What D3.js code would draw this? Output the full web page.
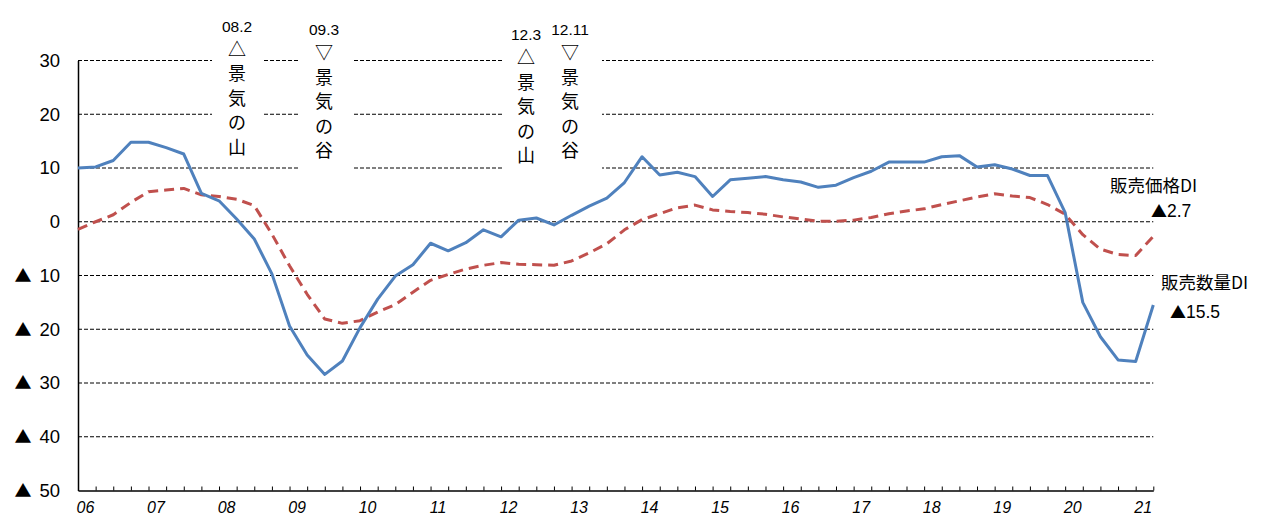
<!DOCTYPE html>
<html>
<head>
<meta charset="utf-8">
<script src="https://cdn.jsdelivr.net/npm/d3@7/dist/d3.min.js"></script>
<style>
  html, body { margin: 0; padding: 0; background: #fff; }
  svg { display: block; }
  .jp { font-family: "Noto Sans CJK JP", "Noto Sans", sans-serif; }
  .num { font-family: "Liberation Sans", Arial, sans-serif; }
</style>
</head>
<body>
<svg id="chart" width="1261" height="518"></svg>
<script>
// Quarterly periods, 2006 Q1 – 2021 Q2
const quarters = [
  "06Q1","06Q2","06Q3","06Q4","07Q1","07Q2","07Q3","07Q4",
  "08Q1","08Q2","08Q3","08Q4","09Q1","09Q2","09Q3","09Q4",
  "10Q1","10Q2","10Q3","10Q4","11Q1","11Q2","11Q3","11Q4",
  "12Q1","12Q2","12Q3","12Q4","13Q1","13Q2","13Q3","13Q4",
  "14Q1","14Q2","14Q3","14Q4","15Q1","15Q2","15Q3","15Q4",
  "16Q1","16Q2","16Q3","16Q4","17Q1","17Q2","17Q3","17Q4",
  "18Q1","18Q2","18Q3","18Q4","19Q1","19Q2","19Q3","19Q4",
  "20Q1","20Q2","20Q3","20Q4","21Q1","21Q2"
];

// 販売数量DI
const salesVolumeDI = [
  10.0, 10.2, 11.4, 14.8, 14.8, 13.8, 12.6, 5.3,
  3.9, 0.5, -3.2, -9.7, -19.4, -24.8, -28.4, -25.9,
  -19.7, -14.4, -10.1, -8.0, -4.0, -5.4, -3.9, -1.5,
  -2.8, 0.3, 0.7, -0.6, 1.2, 2.9, 4.4, 7.3,
  12.1, 8.7, 9.2, 8.4, 4.7, 7.8, 8.1, 8.4,
  7.8, 7.4, 6.4, 6.8, 8.2, 9.4, 11.1, 11.1,
  11.1, 12.1, 12.3, 10.2, 10.6, 9.8, 8.6, 8.6,
  1.7, -15.0, -21.4, -25.7, -26.0, -15.5
];

// 販売価格DI
const salesPriceDI = [
  -1.4, 0.0, 1.3, 3.6, 5.6, 5.9, 6.2, 5.0,
  4.7, 4.2, 3.0, -2.3, -8.2, -13.5, -18.1, -18.9,
  -18.4, -16.8, -15.4, -13.1, -10.9, -9.8, -8.8, -8.1,
  -7.6, -7.9, -8.0, -8.1, -7.3, -5.8, -4.1, -1.5,
  0.4, 1.5, 2.6, 3.1, 2.2, 1.9, 1.7, 1.4,
  0.9, 0.5, 0.1, 0.1, 0.3, 0.8, 1.5, 2.0,
  2.4, 3.2, 3.9, 4.6, 5.2, 4.8, 4.5, 3.2,
  1.4, -2.4, -5.1, -6.1, -6.3, -2.7
];

// Axis ticks
const yTicks = [30, 20, 10, 0, -10, -20, -30, -40, -50];
const yearLabels = ["06","07","08","09","10","11","12","13","14","15","16","17","18","19","20","21"];

// Business-cycle turning points
const cycleDates = ["08.2", "09.3", "12.3", "12.11"];
const cycleMarks = ["△", "▽", "△", "▽"];
const cycleTexts = ["景気の山", "景気の谷", "景気の山", "景気の谷"];

// ---- layout ----
const plotLeft = 78, plotRight = 1153.3, plotTop = 60.5, plotBottom = 490.5;
const annoLayout = [
  { cx: 237, dateY: 26.5, box: [212, 38, 50, 122] },
  { cx: 324, dateY: 30,   box: [300, 38, 52, 136] },
  { cx: 526, dateY: 35,   box: [502, 38, 46, 136] },
  { cx: 570, dateY: 30,   box: [548, 38, 54, 136] }
];

const svg = d3.select("#chart");

const x = d3.scalePoint().domain(quarters).range([plotLeft, plotRight]);
const y = d3.scaleLinear().domain([-50, 30]).range([plotBottom, plotTop]);

// horizontal dashed gridlines
svg.append("g")
  .selectAll("line")
  .data(yTicks.filter(v => v > -50))
  .join("line")
  .attr("x1", plotLeft).attr("x2", plotRight)
  .attr("y1", d => y(d)).attr("y2", d => y(d))
  .attr("stroke", "#000")
  .attr("stroke-width", 1)
  .attr("stroke-dasharray", "4,2");

// white panels behind the turning-point notes
svg.append("g")
  .selectAll("rect")
  .data(annoLayout)
  .join("rect")
  .attr("x", d => d.box[0]).attr("y", d => d.box[1])
  .attr("width", d => d.box[2]).attr("height", d => d.box[3])
  .attr("fill", "#fff");

// y axis; negative values shown with a ▲ prefix
const yAxis = svg.append("g")
  .attr("transform", `translate(${plotLeft},0)`)
  .call(d3.axisLeft(y)
    .tickValues(yTicks)
    .tickSize(0)
    .tickPadding(18)
    .tickFormat(d => String(Math.abs(d))));
yAxis.select(".domain").attr("stroke", "#000").attr("stroke-width", 1.5);
yAxis.selectAll(".tick text")
  .attr("class", "num")
  .attr("font-size", 18.5)
  .attr("fill", "#000")
  .each(function(d) {
    const t = d3.select(this);
    const label = String(Math.abs(d));
    t.text(null);
    if (d < 0) {
      t.append("tspan").attr("class", "jp").attr("font-size", 17).text("▲");
      t.append("tspan").attr("dx", 8).text(label);
    } else {
      t.append("tspan").text(label);
    }
  });

// x axis (quarter ticks, year labels on Q1)
const xAxis = svg.append("g")
  .attr("transform", `translate(0,${plotBottom})`)
  .call(d3.axisBottom(x)
    .tickSizeInner(-4)
    .tickSizeOuter(0)
    .tickPadding(11)
    .tickFormat(d => d.endsWith("Q1") ? yearLabels[yearLabels.indexOf(d.slice(0, 2))] : ""));
xAxis.select(".domain").attr("stroke", "#000").attr("stroke-width", 1.5);
xAxis.selectAll(".tick line").attr("stroke", "#000").attr("stroke-width", 1);
xAxis.selectAll("text")
  .attr("class", "num")
  .attr("font-size", 16)
  .attr("font-style", "italic")
  .attr("dx", 7)
  .attr("fill", "#000");

// series lines
const line = d3.line()
  .x((d, i) => x(quarters[i]))
  .y(d => y(d));

svg.append("path")
  .datum(salesPriceDI)
  .attr("d", line)
  .attr("fill", "none")
  .attr("stroke", "#C0504D")
  .attr("stroke-width", 3)
  .attr("stroke-dasharray", "10,6")
  .attr("stroke-linejoin", "round");

svg.append("path")
  .datum(salesVolumeDI)
  .attr("d", line)
  .attr("fill", "none")
  .attr("stroke", "#4F81BD")
  .attr("stroke-width", 3)
  .attr("stroke-linejoin", "round");

// turning-point notes (vertical text)
const notes = svg.append("g");
cycleDates.forEach((date, i) => {
  const L = annoLayout[i];
  notes.append("text")
    .attr("class", "num")
    .attr("x", L.cx).attr("y", L.dateY)
    .attr("dy", "0.35em")
    .attr("text-anchor", "middle")
    .attr("font-size", 15.5)
    .attr("fill", "#000")
    .text(date);
  const chars = [cycleMarks[i], ...Array.from(cycleTexts[i])];
  chars.forEach((c, k) => {
    notes.append("text")
      .attr("class", "jp")
      .attr("x", L.cx).attr("y", L.dateY + 23 + k * 24.5)
      .attr("dy", "0.35em")
      .attr("text-anchor", "middle")
      .attr("font-size", 18)
      .attr("fill", "#000")
      .text(c);
  });
});

// series labels at the right end
const endLabels = [
  { name: "販売価格DI", value: salesPriceDI[salesPriceDI.length - 1], nx: 1110, ny: 186, vx: 1151, vy: 210.5 },
  { name: "販売数量DI", value: salesVolumeDI[salesVolumeDI.length - 1], nx: 1161, ny: 283, vx: 1170, vy: 311.5 }
];
endLabels.forEach(d => {
  svg.append("text")
    .attr("class", "jp")
    .attr("x", d.nx).attr("y", d.ny)
    .attr("dy", "0.35em")
    .attr("font-size", 17.5)
    .attr("fill", "#000")
    .text(d.name);
  const v = svg.append("text")
    .attr("class", "num")
    .attr("x", d.vx).attr("y", d.vy)
    .attr("dy", "0.35em")
    .attr("font-size", 17.5)
    .attr("fill", "#000");
  if (d.value < 0) v.append("tspan").attr("class", "jp").attr("font-size", 16).text("▲");
  v.append("tspan").text(Math.abs(d.value).toFixed(1));
});
</script>
</body>
</html>
